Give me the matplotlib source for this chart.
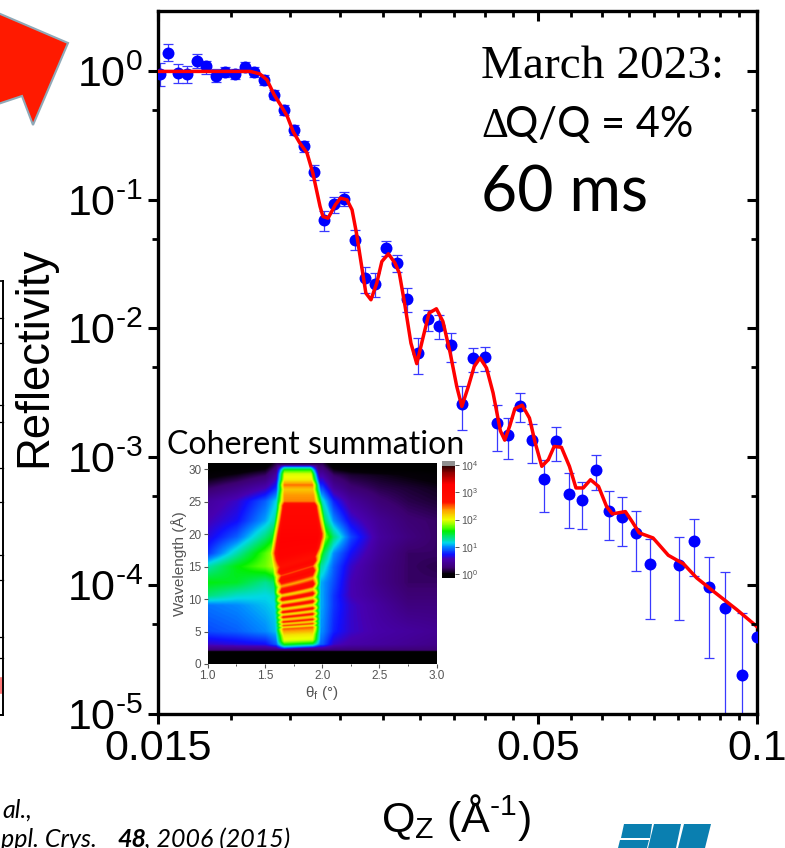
import numpy as np
import matplotlib
matplotlib.use("Agg")
import matplotlib.pyplot as plt
from matplotlib.colors import LinearSegmentedColormap, Normalize
from matplotlib.patches import Polygon
from matplotlib.lines import Line2D
from matplotlib.ticker import NullFormatter

plt.rcParams['font.family'] = ['Liberation Sans', 'DejaVu Sans']
plt.rcParams['mathtext.fontset'] = 'custom'
plt.rcParams['mathtext.rm'] = 'Liberation Sans'
plt.rcParams['mathtext.it'] = 'Liberation Sans:italic'
plt.rcParams['mathtext.bf'] = 'Liberation Sans:bold'
plt.rcParams['mathtext.default'] = 'rm'

# ---- reflectivity data (log10 units) ----
log_q = [-1.821,-1.810,-1.796,-1.784,-1.770,-1.758,-1.744,-1.732,-1.718,-1.704,-1.692,-1.678,-1.664,
         -1.651,-1.637,-1.623,-1.609,-1.596,-1.582,-1.568,-1.553,-1.539,-1.525,-1.510,-1.495,-1.481,
         -1.466,-1.452,-1.437,-1.421,-1.406,-1.391,-1.374,-1.358,-1.342,-1.326,-1.309,-1.293,-1.276,
         -1.259,-1.241,-1.222,-1.204,-1.186,-1.167,-1.147,-1.107,-1.087,-1.066,-1.044,-1.021,-1.000]
log_r = [-0.019,0.146,-0.009,-0.019,0.082,0.043,-0.035,-0.002,-0.019,0.037,-0.002,-0.066,-0.180,
         -0.297,-0.455,-0.582,-0.781,-1.155,-1.030,-0.994,-1.310,-1.611,-1.652,-1.372,-1.493,-1.769,
         -2.191,-1.927,-1.979,-2.132,-2.591,-2.230,-2.225,-2.736,-2.828,-2.601,-2.868,-3.174,-2.879,
         -3.288,-3.337,-3.099,-3.420,-3.467,-3.594,-3.832,-3.840,-3.651,-4.011,-4.172,-4.693,-4.403]
log_up = [0.064,0.212,0.061,0.043,0.134,0.082,0.019,0.037,0.019,0.074,0.037,-0.027,-0.144,
          -0.260,-0.416,-0.538,-0.729,-1.087,-0.974,-0.942,-1.233,-1.523,-1.569,-1.316,-1.432,-1.686,
          -2.075,-1.855,-1.899,-2.036,-2.451,-2.152,-2.148,-2.596,-2.698,-2.500,-2.743,-3.021,-2.770,
          -3.124,-3.194,-2.982,-3.267,-3.314,-3.420,-3.638,-3.625,-3.482,-3.781,-3.897,-4.213,-4.304]
log_low = [-0.110,0.082,-0.087,-0.087,0.027,-0.022,-0.079,-0.045,-0.061,-0.002,-0.040,-0.105,-0.216,
           -0.338,-0.494,-0.631,-0.844,-1.238,-1.098,-1.051,-1.393,-1.725,-1.759,-1.435,-1.557,-1.872,
           -2.352,-2.023,-2.080,-2.261,-2.790,-2.339,-2.334,-2.951,-3.013,-2.728,-3.047,-3.425,-3.031,
           -3.550,-3.557,-3.254,-3.649,-3.690,-3.890,-4.257,-4.267,-3.923,-4.563,-5.5,-5.5,-5.5]
fit_log_q = [-1.824,-1.697,-1.684,-1.674,-1.664,-1.654,-1.646,-1.638,-1.629,-1.619,-1.611,-1.601,-1.597,
             -1.590,-1.580,-1.573,-1.564,-1.557,-1.551,-1.538,-1.531,-1.523,-1.516,-1.507,-1.498,-1.492,
             -1.484,-1.476,-1.468,-1.459,-1.451,-1.441,-1.432,-1.422,-1.413,-1.406,-1.397,-1.389,-1.381,
             -1.372,-1.363,-1.353,-1.347,-1.340,-1.333,-1.323,-1.313,-1.305,-1.296,-1.287,-1.279,-1.269,
             -1.258,-1.249,-1.239,-1.229,-1.218,-1.207,-1.199,-1.181,-1.172,-1.162,-1.143,-1.122,-1.101,
             -1.083,-1.060,-1.028,-1.000]
fit_log_r = [0,0,-0.019,-0.066,-0.183,-0.274,-0.351,-0.468,-0.556,-0.634,-0.789,-1.051,-1.129,
             -1.142,-1.038,-0.986,-0.999,-1.077,-1.256,-1.725,-1.777,-1.647,-1.479,-1.419,-1.491,-1.569,
             -1.829,-2.114,-2.274,-2.062,-1.880,-1.847,-1.946,-2.191,-2.451,-2.607,-2.451,-2.296,-2.230,
             -2.308,-2.502,-2.796,-2.869,-2.757,-2.624,-2.597,-2.697,-2.891,-3.073,-3.021,-2.918,-2.925,
             -3.073,-3.241,-3.241,-3.177,-3.229,-3.384,-3.443,-3.425,-3.501,-3.591,-3.630,-3.765,-3.832,
             -3.941,-4.045,-4.187,-4.320]

x_major = [0.015, 0.05, 0.1]
x_major_labels = ['0.015', '0.05', '0.1']
y_major = [1e0, 1e-1, 1e-2, 1e-3, 1e-4, 1e-5]
y_minor = [5e-1, 5e-2, 5e-3, 5e-4, 5e-5]

# ---- inset map: hand-read levels (log10 intensity) ----
bg_theta = [1.0,1.25,1.5,1.6,2.0,2.1,2.25,2.5,2.75,3.0]
bg_lambda = [0,1.7,2.1,3,5,9,10.5,12.5,15,17,19.5,22,25,27,29,31]
bg_levels = [
    [-.3,-.3,-.3,-.3,-.3,-.3,-.3,-.3,-.3,-.3],
    [-.3,-.3,-.3,-.3,-.3,-.3,-.3,-.3,-.3,-.3],
    [.25,.25,.25,.25,.25,.25,.25,.25,.25,.25],
    [.6,.65,.7,.9,.9,.6,.5,.45,.4,.35],
    [.85,.9,1.0,1.1,1.0,.75,.6,.5,.45,.4],
    [.95,1.0,1.1,1.15,1.05,.8,.6,.45,.3,.3],
    [1.35,1.2,1.15,1.2,1.05,.8,.55,.4,.25,.25],
    [1.55,1.5,1.3,1.4,1.05,.85,.55,.35,.2,.2],
    [1.25,1.55,1.75,1.95,1.25,.9,.6,.35,.2,.15],
    [.8,1.25,1.7,1.95,1.5,1.0,.7,.4,.2,.2],
    [.65,.9,1.35,1.6,1.95,1.35,.85,.45,.3,.2],
    [.55,.7,1.05,1.3,1.5,1.0,.65,.4,.25,.2],
    [.45,.6,.9,1.15,1.2,.75,.45,.25,.15,.1],
    [.2,.35,.55,.8,.85,.45,.25,.15,.1,.05],
    [-.05,.05,.2,.5,.5,.2,.1,.05,0,-.05],
    [-.3,-.3,-.2,.1,.1,-.2,-.25,-.3,-.3,-.3],
]
band_lambda = [2.4,3.0,3.6,4.5,5.5,5.75,6,6.3,6.6,7,7.4,7.8,8.2,8.7,9.2,9.75,10.3,10.95,11.6,12.5,13.5,
               14.3,15,15.7,17,19,21,23,24.3,25,26,26.8,27.5,28.3,29.2,29.8,30.2,30.6]
band_levels = [0.7,1.5,1.95,2.1,2.5,2.05,2.6,2.1,2.7,2.1,2.75,2.05,2.8,2.05,2.85,2.05,2.9,2.1,3.0,2.3,3.05,
               2.5,3.05,2.7,3.15,3.25,3.1,3.0,2.95,2.4,2.35,2.2,2.45,2.05,1.95,1.6,1.1,0.3]
edge_lambda = [3,15,17,20,24,30]
edge_left = [1.63,1.6,1.58,1.6,1.63,1.63]
edge_right = [1.95,1.95,1.97,2.0,1.97,1.93]
tilt_lambda = [5,10,14,17,20]
tilt_slope = [0.8,3.0,5.5,5.0,0.0]
cbar_levels = [0, 1, 2, 3, 4]

W, H = 785, 848
def fx(p): return p / W
def fy(p): return 1 - p / H

fig = plt.figure(figsize=(7.85, 8.48), dpi=100, facecolor='white')

# ---- main axes ----
ax = fig.add_axes([fx(158), fy(714), 599 / W, 703 / H])
q = 10.0 ** np.array(log_q)
r = 10.0 ** np.array(log_r)
up = 10.0 ** np.array(log_up)
low = 10.0 ** np.array(log_low)
ax.errorbar(q, r, yerr=[r - low, up - r], fmt='none', ecolor='#3a3aff', elinewidth=0.9,
            capsize=3.6, capthick=0.9, zorder=2)
ax.plot(q, r, 'o', color='#0000ff', ms=8.6, mew=0, zorder=3)
ax.plot(10.0 ** np.array(fit_log_q), 10.0 ** np.array(fit_log_r), color='#ff0000', lw=2.5, zorder=4)

xlim = (0.015, 0.1)
ylim = (1e-5, 10 ** 0.47)
x_minor = sorted(set(np.round(np.r_[np.linspace(0.015, 0.05, 10)[1:-1], np.linspace(0.05, 0.1, 10)[1:-1]], 6)))
hy = '\u2010'
ax.set_xscale('log'); ax.set_yscale('log')
ax.set_xlim(*xlim); ax.set_ylim(*ylim)
ax.set_xticks(x_major); ax.set_xticklabels(x_major_labels)
ax.set_xticks(x_minor, minor=True); ax.xaxis.set_minor_formatter(NullFormatter())
ax.set_yticks(y_major)
ax.set_yticklabels(['$10^{0}$'] + ['$10^{%s%d}$' % (hy, n) for n in range(1, 6)])
ax.set_yticks(y_minor, minor=True); ax.yaxis.set_minor_formatter(NullFormatter())
ax.tick_params(which='major', length=7, width=2.2, labelsize=31, pad=4)
ax.tick_params(which='minor', length=4, width=2.0)
for s in ax.spines.values():
    s.set_linewidth(2.4)

ax2 = fig.add_axes(ax.get_position(), frameon=False)
ax2.set_xscale('log'); ax2.set_yscale('log')
ax2.set_xlim(*xlim); ax2.set_ylim(*ylim)
ax2.set_xticks(x_major); ax2.set_xticks(x_minor, minor=True)
ax2.set_yticks(y_major); ax2.set_yticks(y_minor, minor=True)
ax2.tick_params(which='both', direction='in', top=True, right=True, bottom=False, left=False,
                labelbottom=False, labelleft=False)
ax2.tick_params(which='major', length=7, width=2.2)
ax2.tick_params(which='minor', length=4, width=2.0)
ax2.xaxis.set_minor_formatter(NullFormatter()); ax2.yaxis.set_minor_formatter(NullFormatter())

fig.text(fx(34), fy(357), 'Reflectivity', rotation=90, fontsize=32.8, ha='center', va='center')
fig.text(fx(456), fy(832), r'Q$_{\mathrm{Z}}$ (Å$^{%s1}$)' % hy, fontsize=31, ha='center', va='baseline')

# ---- annotations ----
fig.text(fx(481), fy(78), 'March 2023:', family='Liberation Serif', fontsize=34, va='baseline')
fig.text(fx(481), fy(137), '\u0394', family='Liberation Serif', fontsize=30, va='baseline')
fig.text(fx(505), fy(137), 'Q/Q = 4%', family='Lato', fontsize=30, va='baseline')
fig.text(fx(481), fy(212), '60 ms', family='Lato', fontsize=45, va='baseline')
fig.text(fx(167), fy(454), 'Coherent summation', family='Lato', fontsize=23.1, va='baseline')

# ---- inset map ----
theta = np.linspace(1, 3, 400)
lam = np.linspace(0, 31, 800)
T, L = np.meshgrid(theta, lam)
coarse = np.array([np.interp(theta, bg_theta, row) for row in bg_levels])
bg = np.array([np.interp(lam, bg_lambda, coarse[:, j]) for j in range(theta.size)]).T
shift = np.interp(L, tilt_lambda, tilt_slope, left=0.8, right=0.0) * (T - 1.78)
band = np.interp(L - shift, band_lambda, band_levels, left=-0.3, right=-0.3)
el = np.interp(L, edge_lambda, edge_left)
er = np.interp(L, edge_lambda, edge_right)
mask = np.clip((T - el + 0.035) / 0.07, 0, 1) * np.clip((er - T + 0.035) / 0.07, 0, 1)
field = bg * (1 - mask) + np.maximum(band, bg) * mask

cmap = LinearSegmentedColormap.from_list('nrain', [
    (0.0, '#000000'), (0.035, '#050008'), (0.085, '#3c0070'), (0.16, '#4800b0'), (0.2, '#1010ff'),
    (0.27, '#0090ff'), (0.3, '#00d8e8'), (0.4, '#00f000'), (0.43, '#50ff00'), (0.5, '#f0ff00'),
    (0.58, '#ffa000'), (0.65, '#ff1000'), (0.8, '#ff0000'), (0.9, '#900000'), (0.955, '#300000'),
    (0.965, '#909090'), (1.0, '#909090')])
norm = Normalize(vmin=-0.15, vmax=4.15)

ia = fig.add_axes([fx(207.7), fy(664), 229 / W, 201 / H])
im = ia.imshow(field, origin='lower', extent=[1, 3, 0, 31], aspect='auto', cmap=cmap, norm=norm,
               interpolation='bilinear')
grey = '#555555'
ia.set_xlim(1, 3); ia.set_ylim(0, 31)
ia.set_xticks([1, 1.5, 2, 2.5, 3]); ia.set_xticklabels(['1.0', '1.5', '2.0', '2.5', '3.0'])
ia.set_xticks([1.25, 1.75, 2.25, 2.75], minor=True)
ia.set_yticks([0, 5, 10, 15, 20, 25, 30])
ia.tick_params(which='major', labelsize=8.5, length=3, width=0.8, colors=grey, pad=1.5)
ia.tick_params(which='minor', length=1.5, width=0.7, colors=grey)
for s in ia.spines.values():
    s.set_visible(False)
ia.set_ylabel('Wavelength (Å)', fontsize=11, color=grey, labelpad=1)
ia.set_xlabel(r'$\mathrm{\theta_f}$ (°)', fontsize=11, color=grey, labelpad=1)

cax = fig.add_axes([fx(441.7), fy(578), 13.5 / W, 117 / H])
cb = fig.colorbar(im, cax=cax)
cb.set_ticks(cbar_levels)
cb.set_ticklabels(['$10^{%d}$' % n for n in cbar_levels])
cb.ax.tick_params(labelsize=7.5, length=3, width=0.7, colors=grey, pad=1.5)
cb.outline.set_visible(False)

# ---- slide fragments around the chart ----
fig.add_artist(Polygon([(fx(-2), fy(13)), (fx(68), fy(43)), (fx(33), fy(125)), (fx(22), fy(96)), (fx(-2), fy(104))],
                       closed=True, transform=fig.transFigure, facecolor='#ff1a00', edgecolor='#8fa9b8', lw=1.5))
for pts, lw, col in [
        ([(3, 281), (3, 715)], 1.4, 'black'),
        ([(0, 281), (3, 281)], 1.2, 'black'),
        ([(0, 715), (3, 715)], 1.4, 'black'),
        ([(1, 678), (1, 693)], 1.2, '#ff6060')]:
    fig.add_artist(Line2D([fx(p[0]) for p in pts], [fy(p[1]) for p in pts], color=col, lw=lw))
for py in [318, 343, 405, 422, 468, 502, 555, 580, 637, 658]:
    fig.add_artist(Line2D([fx(0), fx(3)], [fy(py), fy(py)], color='black', lw=0.9))

fig.text(fx(2), fy(818), 'al.,', family='Lato', style='italic', fontsize=18, va='baseline')
fig.text(fx(1), fy(847), 'ppl. Crys.', family='Lato', style='italic', fontsize=18, va='baseline')
fig.text(fx(117), fy(847), '48', family='Lato', style='italic', weight='bold', fontsize=18, va='baseline')
fig.text(fx(145), fy(847), ', 2006 (2015)', family='Lato', style='italic', fontsize=18, va='baseline')

logo = '#0a7fb0'
for poly in [[(624, 824), (652, 824), (650, 838), (621, 838)],
             [(620, 840), (649, 840), (647, 848), (618, 848)],
             [(654, 824), (681, 824), (676, 848), (648, 848)],
             [(684, 824), (711, 824), (705, 848), (678, 848)]]:
    fig.add_artist(Polygon([(fx(a), fy(b)) for a, b in poly], closed=True, transform=fig.transFigure,
                           facecolor=logo, edgecolor='none'))

fig.savefig('out.png', dpi=100)
